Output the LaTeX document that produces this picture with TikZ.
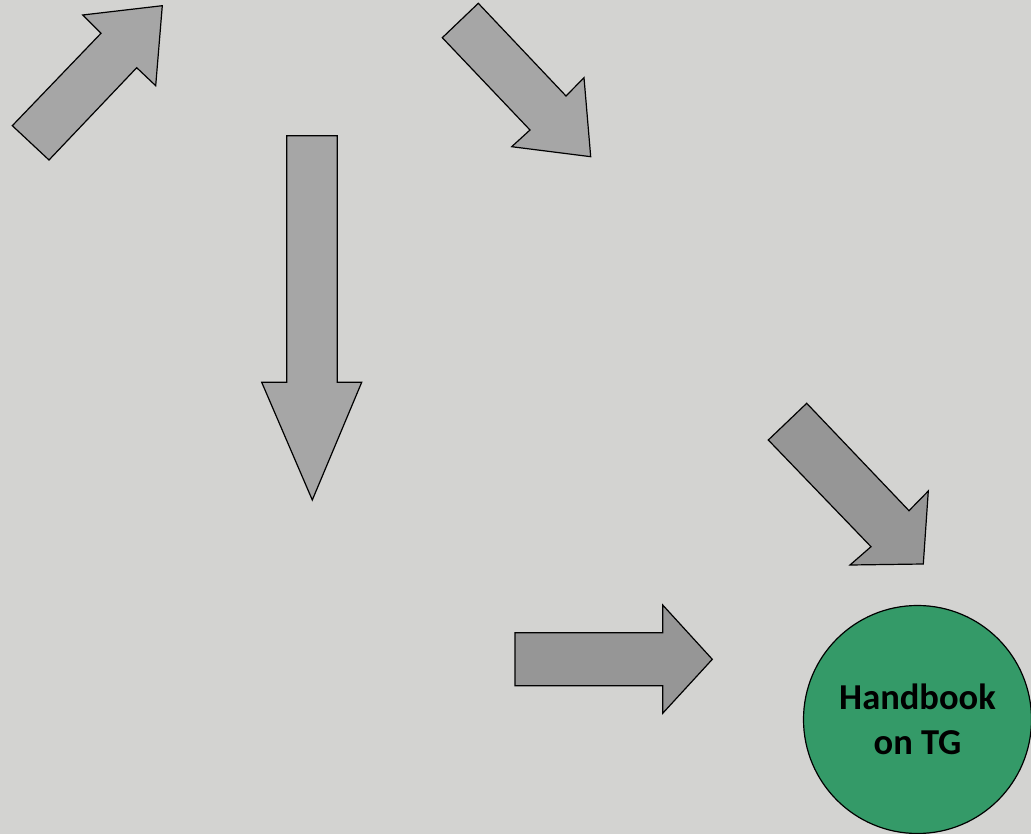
\documentclass[tikz,border=0pt]{standalone}
\usepackage{fontspec}
\setmainfont{Carlito}
\begin{document}
\begin{tikzpicture}[x=1pt,y=-1pt,
  arrowA/.style={draw=black,line width=1.2pt,fill=arrowgrayA,line join=miter},
  arrowB/.style={draw=black,line width=1.2pt,fill=arrowgrayB,line join=miter}]
\definecolor{bg}{HTML}{D3D3D1}
\definecolor{arrowgrayA}{HTML}{A6A6A6}
\definecolor{arrowgrayB}{HTML}{969696}
\definecolor{handgreen}{HTML}{349A68}
\useasboundingbox (0,0) rectangle (1031,834);
\fill[bg] (0,0) rectangle (1031,834);
\begin{scope}
\clip (0,0) rectangle (1031,834);
% up-right arrow
\draw[arrowA] (12.3,125.7) -- (101,33.3) -- (82.7,15) -- (162.3,5.7) -- (155.7,85.7) -- (136.7,67.7) -- (49,160) -- cycle;
% top down-right arrow
\draw[arrowA] (478.3,3.3) -- (566,96) -- (584,77.7) -- (590.7,156.7) -- (511.7,146.7) -- (530,130) -- (442.3,37.7) -- cycle;
% down arrow
\draw[arrowA] (286.7,135.7) -- (337.3,135.7) -- (337.3,382.3) -- (361.7,382.3) -- (312.3,500) -- (261.7,382.3) -- (286.7,382.3) -- cycle;
% lower down-right arrow
\draw[arrowB] (806.7,403.3) -- (909,510.7) -- (928.3,491) -- (923.3,564) -- (850,565) -- (871,546.7) -- (768.3,440) -- cycle;
% right arrow
\draw[arrowB] (515,632.7) -- (662.7,632.7) -- (662.7,605) -- (712.3,659.3) -- (662.7,713.3) -- (662.7,685.7) -- (515,685.7) -- cycle;
% circle
\node[circle,draw=black,line width=1.2pt,fill=handgreen,minimum size=228pt,inner sep=0pt,
      align=center,font=\bfseries\fontsize{36.5}{45}\selectfont] (hb) at (917.5,719.5) {Handbook\\on TG};
\end{scope}
\end{tikzpicture}
\end{document}
